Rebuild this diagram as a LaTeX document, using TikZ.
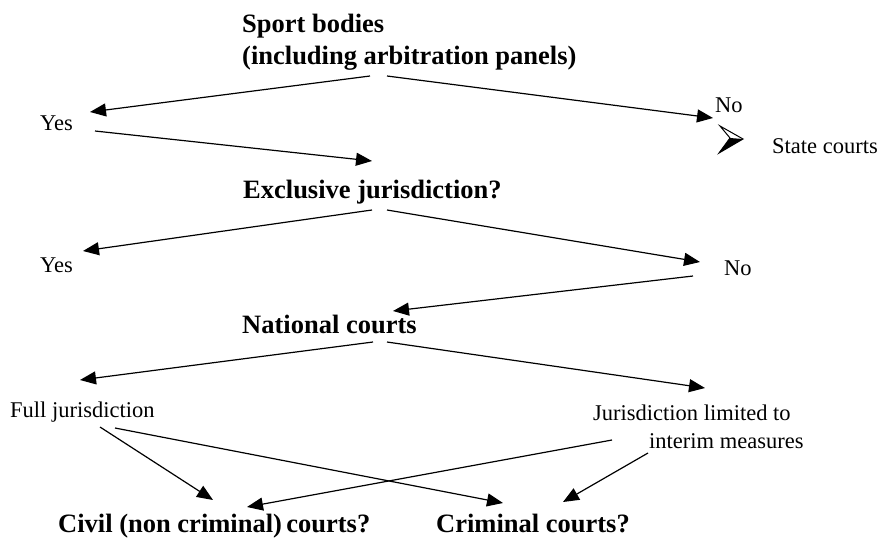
\documentclass[tikz,border=0pt]{standalone}
\usepackage{fontspec}
\setmainfont{Liberation Serif}
\usetikzlibrary{arrows.meta}
\tikzset{
  boldtxt/.style={font=\fontsize{26.5}{32}\selectfont\bfseries, inner sep=0pt, anchor=base west, align=left},
  plaintxt/.style={font=\fontsize{22.5}{28}\selectfont, inner sep=0pt, anchor=base west, align=left},
  conn/.style={line width=1.2pt, -{Triangle[length=16pt,width=13pt]}},
}
\begin{document}
\begin{tikzpicture}[x=1pt,y=-1pt]
\useasboundingbox (0,0) rectangle (877,538);
% texts
\node[boldtxt] (sport) at (242,64) {Sport bodies\\(including arbitration panels)};
\node[plaintxt] (yes1) at (40,130) {Yes};
\node[plaintxt] (no1) at (715,112) {No};
\node[plaintxt] (state) at (772,153) {State courts};
\node[boldtxt] (excl) at (243,198) {Exclusive jurisdiction?};
\node[plaintxt] (yes2) at (40,272) {Yes};
\node[plaintxt] (no2) at (724,275) {No};
\node[boldtxt] (nat) at (242,333) {National courts};
\node[plaintxt] (full) at (10,417) {Full jurisdiction};
\node[plaintxt] (jur) at (593,448) {Jurisdiction limited to\\\hspace*{56pt}interim measures};
\node[boldtxt] (civil) at (58,532) {Civil (non criminal)\,courts?};
\node[boldtxt] (crim) at (436,532) {Criminal courts?};
% connector end points
\coordinate (sportL) at (370,76);
\coordinate (sportR) at (387,76);
\coordinate (yes1in) at (90,112);
\coordinate (no1in) at (713,118);
\coordinate (yes1out) at (95,131);
\coordinate (exclin) at (372,161);
\coordinate (exclL) at (372,210);
\coordinate (exclR) at (387,210);
\coordinate (yes2in) at (83,251);
\coordinate (no2in) at (700,262);
\coordinate (no2out) at (693,276);
\coordinate (natin) at (393,311);
\coordinate (natL) at (373,342);
\coordinate (natR) at (387,342);
\coordinate (fullin) at (80,380);
\coordinate (jurin) at (705,388);
\coordinate (fullA) at (100,427);
\coordinate (fullB) at (115,428);
\coordinate (civilA) at (213,500);
\coordinate (civilB) at (247,507);
\coordinate (crimA) at (503,503);
\coordinate (crimB) at (563,502);
\coordinate (jurA) at (612,440);
\coordinate (jurB) at (648,453);
% connectors
\draw[conn] (sportL) -- (yes1in);
\draw[conn] (sportR) -- (no1in);
\draw[conn] (yes1out) -- (exclin);
\draw[conn] (exclL) -- (yes2in);
\draw[conn] (exclR) -- (no2in);
\draw[conn] (no2out) -- (natin);
\draw[conn] (natL) -- (fullin);
\draw[conn] (natR) -- (jurin);
\draw[conn] (fullA) -- (civilA);
\draw[conn] (fullB) -- (crimA);
\draw[conn] (jurA) -- (civilB);
\draw[conn] (jurB) -- (crimB);
% odd arrowhead near State courts
\coordinate (ahT) at (720,126);
\coordinate (ahTip) at (743,139);
\coordinate (ahB) at (719,153);
\coordinate (ahN) at (730,138);
\fill[black] (ahN) -- (ahTip) -- (ahB) -- cycle;
\draw[line width=1pt, line join=miter] (ahN) -- (ahT) -- (ahTip) -- (ahB) -- cycle;
\end{tikzpicture}
\end{document}
